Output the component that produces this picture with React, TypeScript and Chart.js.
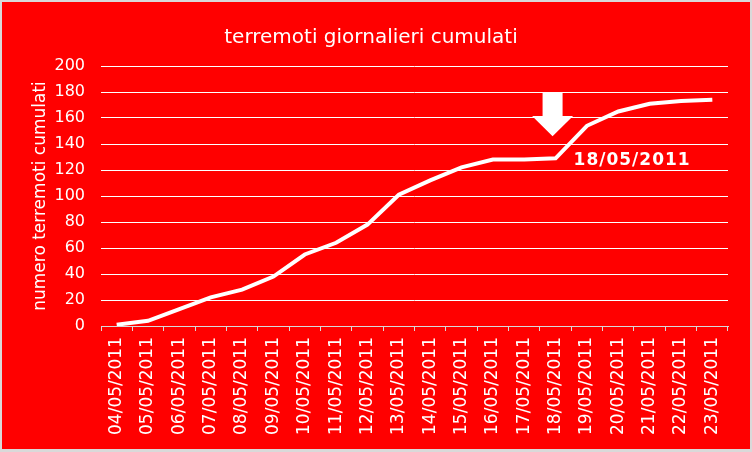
import { useEffect, useRef } from "react";
import { Chart, registerables, type ChartConfiguration, type Plugin } from "chart.js";

Chart.register(...registerables);

const dates = [
  "04/05/2011",
  "05/05/2011",
  "06/05/2011",
  "07/05/2011",
  "08/05/2011",
  "09/05/2011",
  "10/05/2011",
  "11/05/2011",
  "12/05/2011",
  "13/05/2011",
  "14/05/2011",
  "15/05/2011",
  "16/05/2011",
  "17/05/2011",
  "18/05/2011",
  "19/05/2011",
  "20/05/2011",
  "21/05/2011",
  "22/05/2011",
  "23/05/2011",
];
const cumulativeQuakes = [1, 4, 13, 22, 28, 38, 55, 64, 78, 101, 112, 122, 128, 128, 129, 154, 165, 171, 173, 174];
const markedDate = "18/05/2011";

const FONT = "'DejaVu Sans', Verdana, sans-serif";
const RED = "#ff0000";
const FRAME = "#d9d9d9";

export default function App(): JSX.Element {
  const canvasRef = useRef<HTMLCanvasElement>(null);
  const chartRef = useRef<Chart | null>(null);

  useEffect(() => {
    document.body.style.margin = "0";
    const canvas = canvasRef.current;
    if (!canvas) return;

    const backgroundPlugin: Plugin = {
      id: "redBackground",
      beforeDraw(chart) {
        const { ctx, width, height } = chart;
        ctx.save();
        ctx.fillStyle = FRAME;
        ctx.fillRect(0, 0, width, height);
        ctx.fillStyle = RED;
        ctx.fillRect(2, 2, width - 4, height - 5);
        ctx.restore();
      },
    };

    // arrow pointing at the marked day, with its date written beside it
    const markerPlugin: Plugin = {
      id: "dateMarker",
      afterDatasetsDraw(chart) {
        const { ctx, scales } = chart;
        const idx = dates.indexOf(markedDate);
        const x = scales.x.getPixelForValue(idx) - 3;
        const yTop = scales.y.getPixelForValue(180);
        const yShaft = scales.y.getPixelForValue(161.5);
        const yTip = scales.y.getPixelForValue(146);
        ctx.save();
        ctx.fillStyle = "#ffffff";
        ctx.beginPath();
        ctx.moveTo(x - 10, yTop);
        ctx.lineTo(x + 10, yTop);
        ctx.lineTo(x + 10, yShaft);
        ctx.lineTo(x + 20.5, yShaft);
        ctx.lineTo(x, yTip);
        ctx.lineTo(x - 20.5, yShaft);
        ctx.lineTo(x - 10, yShaft);
        ctx.closePath();
        ctx.fill();

        ctx.font = `bold 17px ${FONT}`;
        (ctx as any).letterSpacing = "1px";
        ctx.textAlign = "left";
        ctx.textBaseline = "middle";
        ctx.fillText(markedDate, x + 21, scales.y.getPixelForValue(127));
        ctx.restore();
      },
    };

    const config: ChartConfiguration = {
      type: "line",
      data: {
        labels: dates,
        datasets: [
          {
            data: cumulativeQuakes,
            borderColor: "#ffffff",
            borderWidth: 4,
            pointRadius: 0,
            tension: 0,
            fill: false,
          },
        ],
      },
      options: {
        responsive: false,
        animation: false,
        layout: { padding: { left: 14, right: 24, top: 0, bottom: 0 } },
        plugins: {
          legend: { display: false },
          tooltip: { enabled: false },
          title: {
            display: true,
            text: "terremoti giornalieri cumulati",
            color: "#ffffff",
            font: { family: FONT, size: 20, weight: "normal", lineHeight: 1.2 },
            padding: { top: 26, bottom: 16 },
          },
        },
        scales: {
          x: {
            offset: true,
            afterFit: (scale) => {
              scale.height = 126;
            },
            grid: {
              display: true,
              offset: true,
              drawOnChartArea: false,
              drawTicks: true,
              tickLength: 5,
              color: FRAME,
            },
            border: { display: true, color: FRAME, width: 1 },
            ticks: {
              color: "#ffffff",
              font: { family: FONT, size: 17 },
              minRotation: 90,
              maxRotation: 90,
              autoSkip: false,
              padding: 6,
            },
          },
          y: {
            min: 0,
            max: 200,
            afterFit: (scale) => {
              scale.width = 87;
            },
            grid: { color: "#ffffff", lineWidth: 1, drawTicks: false },
            border: { display: false },
            ticks: {
              stepSize: 20,
              color: "#ffffff",
              font: { family: FONT, size: 16 },
              padding: 16,
            },
            title: {
              display: true,
              text: "numero terremoti cumulati",
              color: "#ffffff",
              font: { family: FONT, size: 17, lineHeight: 1.2 },
              padding: { top: 16, bottom: 0 },
            },
          },
        },
      },
      plugins: [backgroundPlugin, markerPlugin],
    };

    Chart.getChart(canvas)?.destroy();
    chartRef.current = new Chart(canvas, config);

    return () => {
      chartRef.current?.destroy();
      chartRef.current = null;
    };
  }, []);

  return (
    <div style={{ width: 752, height: 452 }}>
      <canvas ref={canvasRef} width={752} height={452} style={{ display: "block" }} />
    </div>
  );
}
